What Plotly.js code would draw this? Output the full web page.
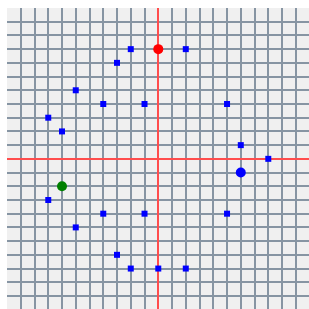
<!DOCTYPE html>
<html>
<head>
<meta charset="utf-8">
<script src="https://cdn.plot.ly/plotly-3.0.1.min.js"></script>
<style>html,body{margin:0;padding:0;background:#fff;overflow:hidden;}</style>
</head>
<body>
<div id="chart" style="width:309px;height:309px;"></div>
<script>
// Blue square points
const squareX = [2, -2, -3, -6, -4, -1, -8, -7, 5, 6, 8, 5, 0, 2, -8, -4, -1, -6, -3, -2];
const squareY = [8, 8, 7, 5, 4, 4, 3, 2, 4, 1, 0, -4, -8, -8, -3, -4, -4, -5, -7, -8];
// Highlighted circle points
const redX = [0], redY = [8];
const blueX = [6], blueY = [-1];
const greenX = [-7], greenY = [-2];

const traces = [
  {x: squareX, y: squareY, type: 'scatter', mode: 'markers',
   marker: {symbol: 'square', size: 6, color: '#0000ff'}, hoverinfo: 'none'},
  {x: redX, y: redY, type: 'scatter', mode: 'markers',
   marker: {symbol: 'circle', size: 10, color: '#ff0000'}},
  {x: blueX, y: blueY, type: 'scatter', mode: 'markers',
   marker: {symbol: 'circle', size: 10, color: '#0000ff'}},
  {x: greenX, y: greenY, type: 'scatter', mode: 'markers',
   marker: {symbol: 'circle', size: 10, color: '#008000'}}
];

const axisCommon = {
  dtick: 1, tick0: 0, showticklabels: false, ticks: '',
  showgrid: true, gridcolor: '#8795a3', gridwidth: 2,
  zeroline: true, zerolinecolor: '#ff4d4d', zerolinewidth: 2,
  fixedrange: true
};

const layout = {
  width: 309, height: 309,
  margin: {l: 7, r: 0, t: 8, b: 0, pad: 0},
  paper_bgcolor: '#ffffff',
  plot_bgcolor: '#f0f0f0',
  showlegend: false,
  xaxis: Object.assign({}, axisCommon, {range: [-11, 10.96]}),
  yaxis: Object.assign({}, axisCommon, {range: [-10.95, 11]})
};

Plotly.newPlot('chart', traces, layout, {displayModeBar: false, staticPlot: true});
</script>
</body>
</html>
